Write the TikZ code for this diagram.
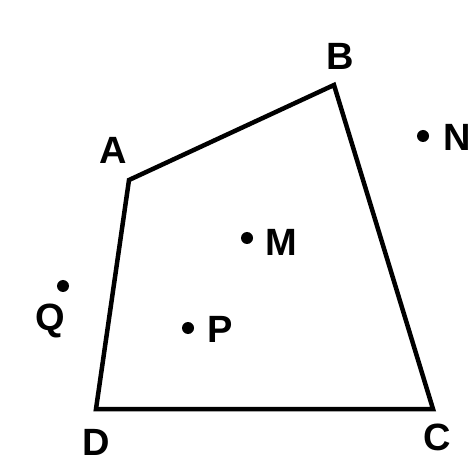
\documentclass[tikz,border=0pt]{standalone}
\usepackage{fontspec}
\setmainfont{Liberation Sans}
\begin{document}
\begin{tikzpicture}[x=1pt,y=-1pt,
  lbl/.style={font=\fontsize{38}{38}\selectfont\bfseries, inner sep=0pt, anchor=center},
  pt/.style={circle, fill=black, inner sep=0pt, minimum size=12pt}]
\useasboundingbox (0,0) rectangle (471,462);
\coordinate (A) at (129,180);
\coordinate (B) at (334,85);
\coordinate (C) at (433,409);
\coordinate (D) at (96,409);
\draw[line width=4.5pt, line join=miter] (A) -- (B) -- (C) -- (D) -- cycle;
\node[lbl] (la) at (113,150) {A};
\node[lbl] (lb) at (340,56) {B};
\node[lbl] (lc) at (437,437) {C};
\node[lbl] (ld) at (96,442) {D};
\node[pt] (N) at (423,136) {};
\node[lbl] (ln) at (457,137) {N};
\node[pt] (M) at (247,238) {};
\node[lbl] (lm) at (281,242) {M};
\node[pt] (Q) at (63,286) {};
\node[lbl] (lq) at (50,321) {Q};
\node[pt] (P) at (188,328) {};
\node[lbl] (lp) at (220,329) {P};
\end{tikzpicture}
\end{document}
